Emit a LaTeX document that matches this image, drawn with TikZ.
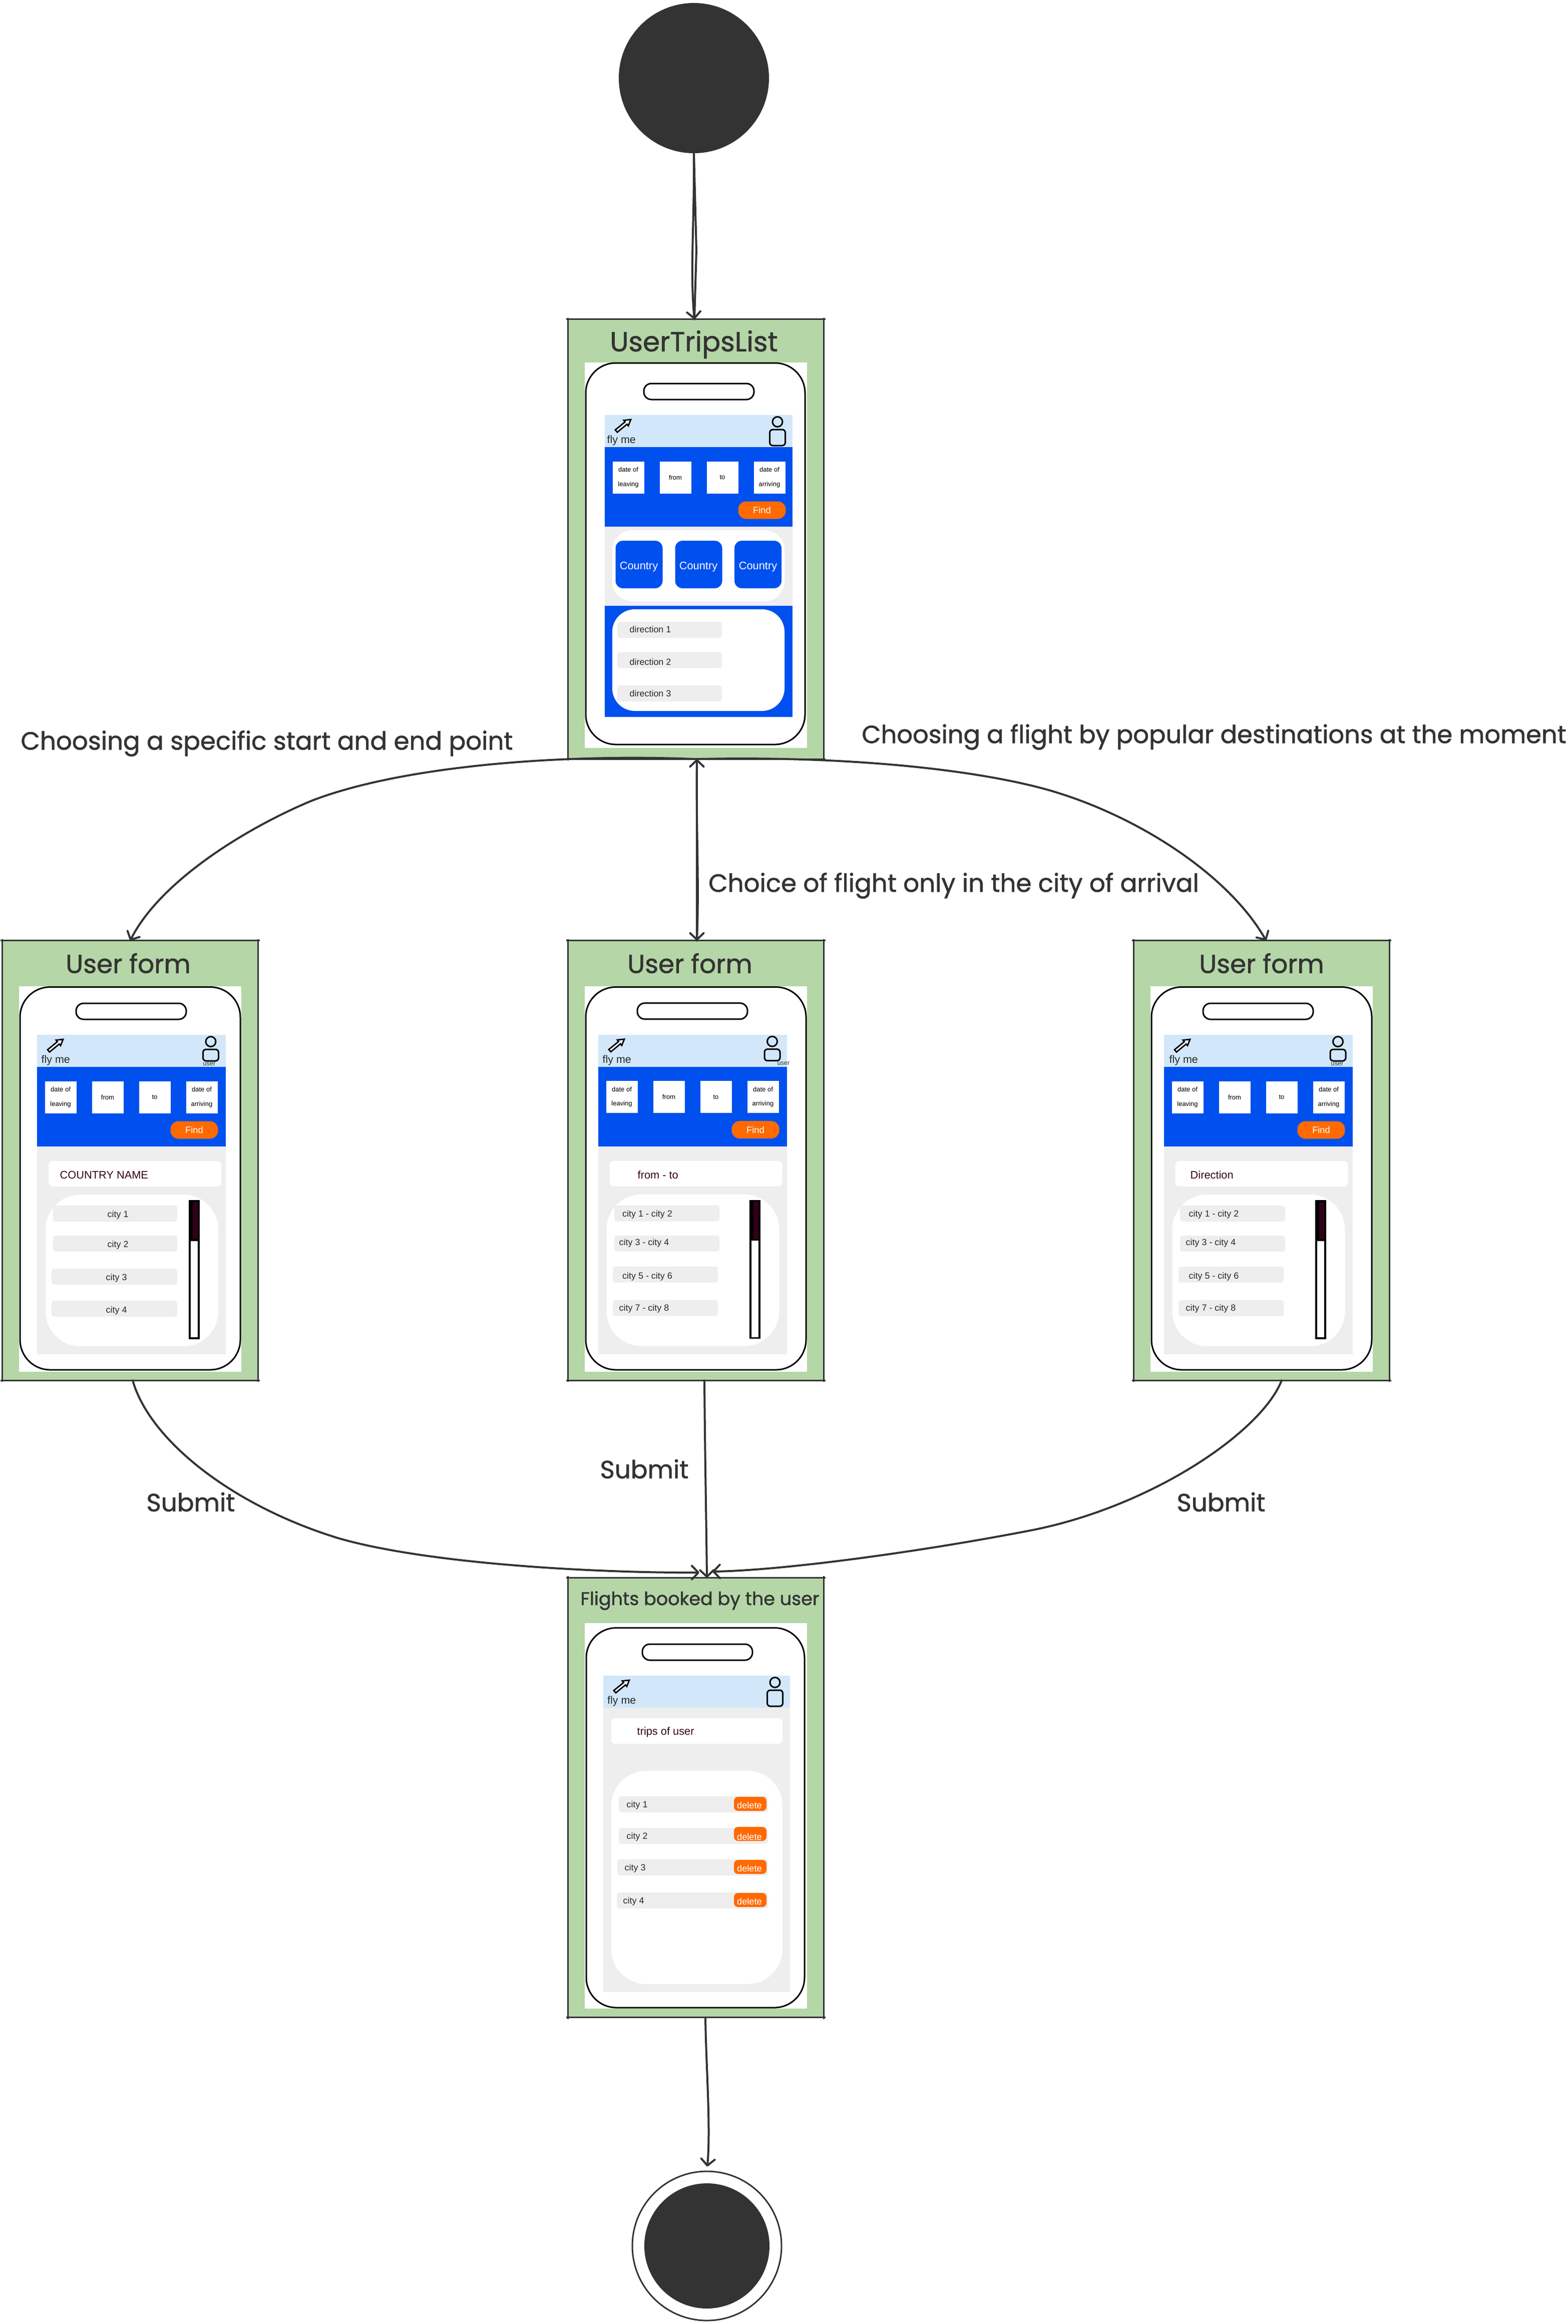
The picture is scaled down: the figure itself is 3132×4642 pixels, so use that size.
\documentclass[tikz,border=0pt]{standalone}
\usepackage{fontspec}
\setmainfont{Poppins}
\newfontfamily\labelfont{Poppins}[FakeBold=1.2]
\newfontfamily\uifont{Liberation Sans}
\usetikzlibrary{arrows.meta}

\definecolor{darkline}{HTML}{333333}
\definecolor{framegreen}{HTML}{B5D6A7}
\definecolor{headerblue}{HTML}{D2E7FA}
\definecolor{appblue}{HTML}{0050EF}
\definecolor{appgray}{HTML}{EEEEEE}
\definecolor{apporange}{HTML}{FF6A00}
\definecolor{appmaroon}{HTML}{33001A}

\tikzset{
    stateframe/.style={fill=framegreen, minimum width=51mm, minimum height=87.7mm, inner sep=0},
    frameedge/.style={draw=darkline, line width=0.3mm, shorten >=-0.3mm, shorten <=-0.3mm},
    statetitle/.style={font=\labelfont\fontsize{14.7}{16}\selectfont, text=darkline, inner sep=0},
    edgelabel/.style={font=\labelfont\fontsize{14.2}{16}\selectfont, text=darkline, inner sep=0},
    flowline/.style={draw=darkline, line width=0.4mm, line cap=round},
    flow/.style={flowline, -{Straight Barb[length=1.3mm,width=2.7mm,round]}},
    phoneline/.style={draw=black, line width=0.3mm, fill=white},
    fieldbox/.style={fill=white, minimum width=6.3mm, minimum height=6.4mm, inner sep=0, align=center,
        font=\uifont\fontsize{3.7}{8.25}\selectfont},
    findbtn/.style={fill=apporange, rounded corners=1.6mm, minimum width=9.5mm, minimum height=3.5mm, inner sep=0,
        text=white, font=\uifont\fontsize{5.2}{6}\selectfont},
    countrybtn/.style={fill=appblue, rounded corners=1.5mm, minimum width=9.4mm, minimum height=9.5mm, inner sep=0,
        text=white, font=\uifont\fontsize{6.2}{7}\selectfont},
    deletebtn/.style={fill=apporange, rounded corners=0.8mm, minimum width=6.5mm, minimum height=2.8mm, inner sep=0,
        text=white, font=\uifont\fontsize{5.2}{6}\selectfont},
    flytext/.style={anchor=west, inner sep=0, text=black!85, font=\uifont\fontsize{6.1}{7}\selectfont},
    usertext/.style={inner sep=0, text=black!80, font=\uifont\fontsize{3.6}{4}\selectfont},
    rowtext/.style={anchor=west, inner sep=0, text=black!85, font=\uifont\fontsize{5.1}{6}\selectfont},
    headtext/.style={anchor=west, inner sep=0, text=appmaroon, font=\uifont\fontsize{6.2}{7}\selectfont},
}

% the green frame with its overshooting edges
\newcommand{\frameedges}[1]{
    \draw[frameedge] (#1.north west) -- (#1.north east);
    \draw[frameedge] (#1.north east) -- (#1.south east);
    \draw[frameedge] (#1.south east) -- (#1.south west);
    \draw[frameedge] (#1.south west) -- (#1.north west);
}
\newcommand{\phoneshell}[6]{
    \fill[white] (#1,#2) rectangle ++(444,770);
    \draw[phoneline, rounded corners=6mm] (#3,#4) rectangle (#5,#6);
}
% origin of the next macros: top left corner of the light blue bar
\newcommand{\appheader}[3]{
    \draw[phoneline, rounded corners=1.5mm] (78,-63) rectangle (298,-31);
    \fill[headerblue] (0,0) rectangle (#2,64);
    \draw[draw=black, line width=0.28mm, fill=white, line join=miter] (25,34.3) -- (44.4,18.3) -- (47,21.5) -- (52,9)
        -- (38,10.5) -- (40.6,13.7) -- (21,29.7) -- cycle;
    \node[flytext] (#1fly) at (#3,51) {fly me};
}
\newcommand{\personicon}[2]{
    \draw[phoneline, fill=none] (#1,13.5) circle[radius=1mm];
    \draw[phoneline, fill=none, rounded corners=0.6mm] (#1-15.5,29) rectangle (#1+15.5,#2);
}
\newcommand{\searchbar}[2]{
    \fill[appblue] (0,64) rectangle (#2,223);
    \node[fieldbox] (#1leave) at (47,124.5) {date of\\leaving};
    \node[fieldbox] (#1from) at (141,124.5) {from};
    \node[fieldbox] (#1to) at (235,124.5) {to};
    \node[fieldbox] (#1arrive) at (329,124.5) {date of\\arriving};
    \node[findbtn] (#1find) at (314,190) {Find};
}
\newcommand{\formbody}[5]{
    \fill[appgray] (0,223) rectangle (#2,638);
    \fill[white, rounded corners=0.8mm] (#3,252) rectangle ++(345,51);
    \node[headtext] (#1head) at (#4,280) {#5};
    \fill[white, rounded corners=7mm] (#3-6,319) rectangle ++(345,303);
}
\newcommand{\scrollbar}[1]{
    \draw[draw=black, line width=0.35mm, fill=white] (#1,332) rectangle ++(18,274);
    \draw[draw=black, line width=0.35mm, fill=appmaroon] (#1,332) rectangle ++(18,78);
    \fill[black] (#1,332) rectangle ++(6,78);
}

\begin{document}
\begin{tikzpicture}[x=0.1mm, y=-0.1mm]
    \useasboundingbox (0,0) rectangle (3132,4642);

    \node[circle, fill=darkline, minimum size=30mm, inner sep=0] (start) at (1386,156) {};
    \node[stateframe] (trips) at (1390,1077) {};
    \node[stateframe] (formA) at (260,2318) {};
    \node[stateframe] (formB) at (1390,2318) {};
    \node[stateframe] (formC) at (2520,2318) {};
    \node[stateframe] (booked) at (1390,3590.5) {};
    \node[circle, draw=darkline, line width=0.3mm, minimum size=29.8mm, inner sep=0] (final) at (1412,4486) {};
    \node[circle, fill=darkline, minimum size=25mm, inner sep=0] (finalcore) at (final.center) {};

    \frameedges{trips}
    \frameedges{formA}
    \frameedges{formB}
    \frameedges{formC}
    \frameedges{booked}

    \node[statetitle, font=\labelfont\fontsize{15.6}{17}\selectfont] (tripstitle) at (1386,688) {UserTripsList};
    \node[statetitle] (formAtitle) at (256,1924) {User form};
    \node[statetitle] (formBtitle) at (1378,1924) {User form};
    \node[statetitle] (formCtitle) at (2520,1924) {User form};
    \node[statetitle, font=\labelfont\fontsize{10.4}{12}\selectfont] (bookedtitle) at (1398,3197) {Flights booked by the user};

    % first screen
    \phoneshell{1168}{724}{1170}{725}{1608}{1487}
    \begin{scope}[shift={(1208,829)}]
        \appheader{t}{375}{4}
        \personicon{345}{61}
        \searchbar{t}{375}
        \fill[appgray] (0,223) rectangle (375,381);
        \fill[white, rounded corners=4mm] (15,230) rectangle (359,372);
        \node[countrybtn] (tcountryA) at (68.5,298.5) {};
        \node[countrybtn] (tcountryB) at (187.5,298.5) {};
        \node[countrybtn] (tcountryC) at (306,298.5) {};
        \node[inner sep=0, text=white, font=\uifont\fontsize{6.2}{7}\selectfont] (tcountryAtxt) at (68,303) {Country};
        \node[inner sep=0, text=white, font=\uifont\fontsize{6.2}{7}\selectfont] (tcountryBtxt) at (187,303) {Country};
        \node[inner sep=0, text=white, font=\uifont\fontsize{6.2}{7}\selectfont] (tcountryCtxt) at (306,303) {Country};
        \fill[appblue] (0,381) rectangle (375,603);
        \fill[white, rounded corners=4.5mm] (15,388) rectangle (359,591);
        \foreach \rowi/\bart/\txty in {1/413/428,2/473.5/493,3/540/556} {
            \fill[appgray, rounded corners=0.5mm] (25,\bart) rectangle ++(209,32);
            \node[rowtext] (tdir\rowi) at (49,\txty) {direction \rowi};
        }
    \end{scope}

    % three forms
    \phoneshell{38}{1970}{40}{1971.5}{480}{2736}
    \begin{scope}[shift={(74,2067)}]
        \appheader{a}{377}{8}
        \personicon{347}{52}
        \node[usertext] (auser) at (344,58) {user};
        \searchbar{a}{377}
        \formbody{a}{377}{23}{45}{COUNTRY NAME}
        \foreach \rowi/\barl/\bart/\txtx/\txty in {1/32/341/140/360,2/32/401/140/420,3/29/467/137/486,4/29/531/137/551} {
            \fill[appgray, rounded corners=0.5mm] (\barl,\bart) rectangle (280,\bart+32);
            \node[rowtext] (arow\rowi) at (\txtx,\txty) {city \rowi};
        }
        \scrollbar{305}
    \end{scope}

    \phoneshell{1168}{1970}{1170}{1971.5}{1610}{2736}
    \begin{scope}[shift={(1195,2066.6)}]
        \appheader{b}{377}{8}
        \personicon{347.5}{52}
        \node[usertext] (buser) at (370,58) {user};
        \searchbar{b}{377}
        \formbody{b}{377}{22.5}{78}{from - to}
        \foreach \rowi/\barl/\bart/\txtx/\txty/\rowtxt in {1/32/341/47.5/359/city 1 - city 2,2/32/401/41/416/city 3 - city 4,3/29/463/47.5/483/city 5 - city 6,4/29/530/41/547/city 7 - city 8} {
            \fill[appgray, rounded corners=0.5mm] (\barl,\bart) rectangle ++(210,32);
            \node[rowtext] (brow\rowi) at (\txtx,\txty) {\rowtxt};
        }
        \scrollbar{304}
    \end{scope}

    \phoneshell{2298}{1970}{2300}{1971.5}{2740}{2736}
    \begin{scope}[shift={(2325,2067)}]
        \appheader{c}{377}{10}
        \personicon{347.5}{52}
        \node[usertext] (cuser) at (346,58) {user};
        \searchbar{c}{377}
        \formbody{c}{377}{22.5}{52}{Direction}
        \foreach \rowi/\barl/\bart/\txtx/\txty/\rowtxt in {1/32/341/49/359/city 1 - city 2,2/32/401/43/416/city 3 - city 4,3/29/463/49/483/city 5 - city 6,4/29/530/43/547/city 7 - city 8} {
            \fill[appgray, rounded corners=0.5mm] (\barl,\bart) rectangle ++(210,32);
            \node[rowtext] (crow\rowi) at (\txtx,\txty) {\rowtxt};
        }
        \scrollbar{304}
    \end{scope}

    % last screen
    \phoneshell{1168}{3242}{1171}{3251.5}{1607}{4010}
    \begin{scope}[shift={(1205,3347)}]
        \appheader{d}{372.5}{7.5}
        \personicon{343}{61}
        \fill[appgray] (0,64) rectangle (372.5,632);
        \fill[white, rounded corners=0.8mm] (16,85) rectangle (358,136);
        \node[headtext] (dhead) at (67,113) {trips of user};
        \fill[white, rounded corners=7mm] (16,190) rectangle (358,616);
        \foreach \rowi/\barl/\bart/\btny/\txtx/\txty in {1/31/241/256/46/259,2/31/304/316/46/322,3/28/367/382/42/385,4/27/433/448/39/451} {
            \fill[appgray, rounded corners=0.5mm] (\barl,\bart) rectangle (329,\bart+32);
            \node[rowtext] (drow\rowi) at (\txtx,\txty) {city \rowi};
            \node[deletebtn] (ddel\rowi) at (293.5,\btny) {};
            \node[inner sep=0, text=white, font=\uifont\fontsize{5.2}{6}\selectfont] (ddeltxt\rowi) at (292,\txty) {delete};
        }
    \end{scope}

    % connectors
    \draw[flowline] (start.south) -- (1391,500) -- ([xshift=-0.3mm]trips.north);
    \draw[flow] (start.south) .. controls (1387,450) and (1378,540) .. ([xshift=-0.3mm]trips.north);

    \draw[flow] (trips.south) .. controls (1120,1505) and (800,1530) .. (621,1600)
        .. controls (490,1655) and (320,1760) .. (formA.north);
    \draw[flow] (trips.south) .. controls (1650,1510) and (1900,1530) .. (2064,1570)
        .. controls (2250,1615) and (2450,1740) .. ([xshift=0.9mm]formC.north);
    \draw[flowline, {Straight Barb[length=1.3mm,width=2.7mm,round]}-{Straight Barb[length=1.3mm,width=2.7mm,round]}]
        ([xshift=0.2mm]trips.south) -- ([xshift=0.2mm]formB.north);
    \draw[flowline] ([xshift=0.2mm]trips.south) .. controls (1390,1650) and (1397,1760) .. ([xshift=0.2mm]formB.north);

    \coordinate (mergeL) at (1397,3141);
    \coordinate (mergeR) at (1423,3139);
    \draw[flow] ([xshift=0.5mm]formA.south) .. controls (300,2880) and (470,3010) .. (678,3073)
        .. controls (860,3125) and (1200,3142) .. (mergeL);
    \draw[flow] ([xshift=1.7mm]formB.south) .. controls (1408,2900) and (1411,3050) .. ([xshift=2.2mm]booked.north);
    \draw[flow] ([xshift=4mm]formC.south) .. controls (2520,2860) and (2300,3010) .. (2058,3057)
        .. controls (1830,3101) and (1560,3137) .. (mergeR);
    \draw[flow, shorten >=0.8mm] ([xshift=1.9mm]booked.south) .. controls (1410,4120) and (1420,4250) .. (final.north);

    % labels
    \node[edgelabel] (labelA) at (533,1485) {Choosing a specific start and end point};
    \node[edgelabel, font=\labelfont\fontsize{14.1}{16}\selectfont] (labelC) at (2425,1472) {Choosing a flight by popular destinations at the moment};
    \node[edgelabel] (labelB) at (1905,1769) {Choice of flight only in the city of arrival};
    \node[edgelabel] (submitA) at (381,3000) {Submit};
    \node[edgelabel] (submitB) at (1287,2934) {Submit};
    \node[edgelabel] (submitC) at (2439,3000) {Submit};
\end{tikzpicture}
\end{document}
